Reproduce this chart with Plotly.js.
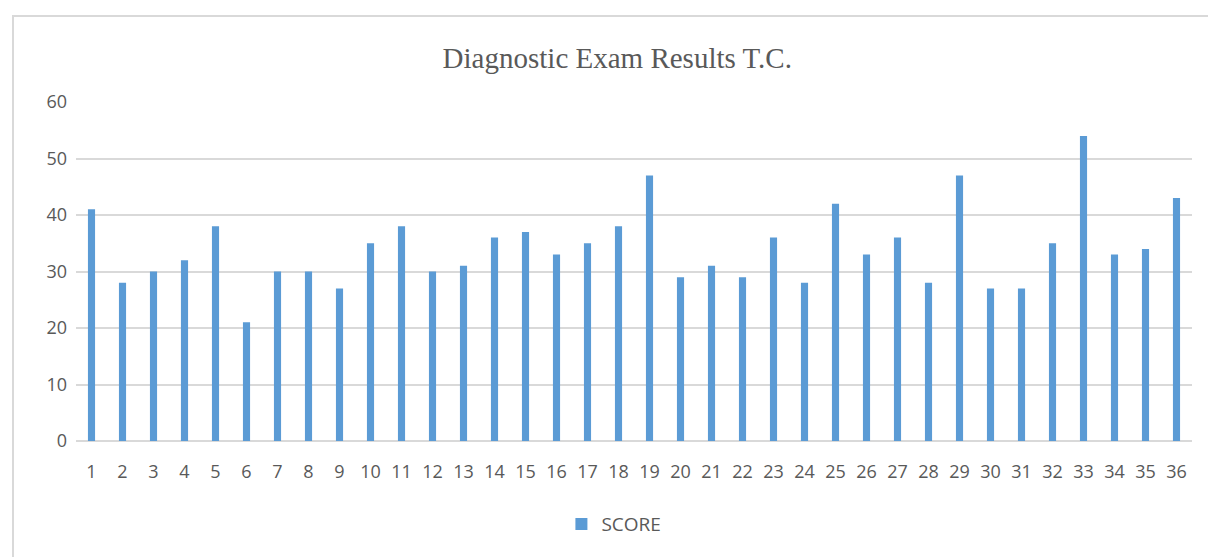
<!DOCTYPE html>
<html>
<head>
<meta charset="utf-8">
<script src="https://cdn.plot.ly/plotly-3.0.1.min.js"></script>
<style>
html,body{margin:0;padding:0;background:#fff;}
#frame{position:absolute;left:12px;top:15px;width:1200px;height:560px;border-left:2px solid #d9d9d9;border-top:2px solid #d9d9d9;box-sizing:border-box;pointer-events:none;z-index:5;}
#chart{width:1208px;height:557px;}
</style>
</head>
<body>
<div id="frame"></div>
<div id="chart"></div>
<script>
var categories = ["1","2","3","4","5","6","7","8","9","10","11","12","13","14","15","16","17","18","19","20","21","22","23","24","25","26","27","28","29","30","31","32","33","34","35","36"];
var scores = [41,28,30,32,38,21,30,30,27,35,38,30,31,36,37,33,35,38,47,29,31,29,36,28,42,33,36,28,47,27,27,35,54,33,34,43];
var yTicks = [0,10,20,30,40,50,60];
var seriesName = "SCORE";

var tickFont = {family: "Open Sans, sans-serif", size: 18, color: "#595959"};

Plotly.newPlot("chart", [{
  type: "bar",
  x: categories,
  y: scores,
  name: seriesName,
  marker: {color: "#5b9bd5"},
  showlegend: true
}], {
  width: 1208, height: 557,
  margin: {l: 76, r: 16, t: 102, b: 116},
  paper_bgcolor: "#fff", plot_bgcolor: "#fff",
  bargap: 0.77,
  title: {text: "Diagnostic Exam Results T.C.", x: 0.511, xanchor: "center", y: 0.897, yanchor: "middle",
          font: {family: "Liberation Serif, Times New Roman, serif", size: 29, color: "#595959"}},
  xaxis: {type: "category", tickfont: tickFont, showgrid: false, zeroline: false, showline: false,
          ticks: "", ticklen: 0, tickangle: 0, ticklabelstandoff: 18},
  yaxis: {range: [0, 60], tickvals: yTicks, ticktext: yTicks.map(String), tickfont: tickFont,
          showgrid: true, gridcolor: "#d9d9d9", gridwidth: 2, zeroline: true, zerolinecolor: "#d9d9d9", zerolinewidth: 2,
          showline: false, ticks: "", ticklabelstandoff: 8},
  showlegend: true,
  legend: {orientation: "h", x: 0.482, xanchor: "center", y: -0.245, yanchor: "middle", itemwidth: 30,
           font: {family: "Open Sans, sans-serif", size: 19, color: "#595959"}}
}, {displayModeBar: false, staticPlot: true});
</script>
</body>
</html>
